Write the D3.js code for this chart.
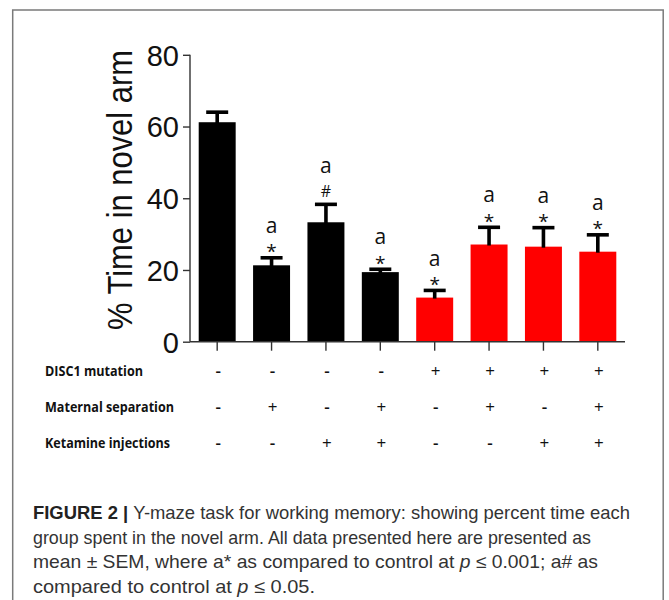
<!DOCTYPE html>
<html>
<head>
<meta charset="utf-8">
<script src="https://cdn.jsdelivr.net/npm/d3@7"></script>
<style>
  html, body { margin: 0; padding: 0; background: #fff; }
  svg { display: block; }
</style>
</head>
<body>
<svg id="chart" width="669" height="600"></svg>
<script>
// Group design: treatment flags per group
const disc1 = ["-", "-", "-", "-", "+", "+", "+", "+"];
const maternal = ["-", "+", "-", "+", "-", "+", "-", "+"];
const ketamine = ["-", "-", "+", "+", "-", "-", "+", "+"];

// % time in novel arm: mean and SEM per group
const means = [61.2, 21.3, 33.3, 19.4, 12.3, 27.1, 26.5, 25.1];
const sems = [2.8, 2.1, 5.0, 0.8, 2.0, 4.8, 5.3, 4.7];

// significance labels above each bar
const sigLetter = ["", "a", "a", "a", "a", "a", "a", "a"];
const sigMark = ["", "*", "#", "*", "*", "*", "*", "*"];

const yTicks = [0, 20, 40, 60, 80];
const rowLabels = ["DISC1 mutation", "Maternal separation", "Ketamine injections"];
const rowFlags = [disc1, maternal, ketamine];

const captionLines = [
  [{t: "FIGURE 2 | ", b: true}, {t: "Y-maze task for working memory: showing percent time each"}],
  [{t: "group spent in the novel arm. All data presented here are presented as"}],
  [{t: "mean \u00B1 SEM, where a* as compared to control at "}, {t: "p", i: true}, {t: " \u2264 0.001; a# as"}],
  [{t: "compared to control at "}, {t: "p", i: true}, {t: " \u2264 0.05."}]
];

const svg = d3.select("#chart");
const groups = d3.range(means.length);

// outer frame
svg.append("rect")
  .attr("x", 12.7).attr("y", 10)
  .attr("width", 650.5).attr("height", 620)
  .attr("fill", "none").attr("stroke", "#7a7a7a").attr("stroke-width", 1.5);

const x = d3.scaleBand().domain(groups).range([190, 625]).paddingInner(0.32).paddingOuter(0.16);
const y = d3.scaleLinear().domain([0, 80]).range([341.7, 54.8]);
const fillFor = i => disc1[i] === "+" ? "#ff0000" : "#000000";

// bars
svg.append("g").selectAll("rect").data(groups).join("rect")
  .attr("x", i => x(i))
  .attr("width", x.bandwidth())
  .attr("y", i => y(means[i]))
  .attr("height", i => y(0) - y(means[i]))
  .attr("fill", fillFor);

// upper SEM whiskers
const eb = svg.append("g").attr("stroke", "#000").attr("stroke-width", 3.6).attr("fill", "none");
groups.forEach(i => {
  const cx = x(i) + x.bandwidth() / 2;
  const top = y(means[i] + sems[i]);
  eb.append("line").attr("x1", cx).attr("x2", cx).attr("y1", y(means[i]) + 1).attr("y2", top);
  eb.append("line").attr("x1", cx - 11).attr("x2", cx + 11).attr("y1", top).attr("y2", top);
});

// axes
const yAxis = svg.append("g").attr("transform", "translate(190,0)")
  .call(d3.axisLeft(y).tickValues(yTicks).tickSize(7).tickPadding(4).tickFormat(d3.format("d")));
yAxis.selectAll("text").attr("font-family", "Liberation Sans, Arial, sans-serif")
  .attr("font-size", 29).attr("fill", "#111").attr("dy", "0.36em");

const xAxis = svg.append("g").attr("transform", "translate(0,341.7)")
  .call(d3.axisBottom(x).tickSize(9).tickFormat(""));

[yAxis, xAxis].forEach(a => {
  a.select(".domain").attr("stroke", "#333").attr("stroke-width", 1.4);
  a.selectAll(".tick line").attr("stroke", "#333").attr("stroke-width", 1.4);
});
yAxis.select(".domain").attr("d", "M0,341.7V54.8");
xAxis.select(".domain").attr("d", "M190,0H625");

// y-axis title
svg.append("text")
  .attr("transform", "translate(132,190) rotate(-90)")
  .attr("text-anchor", "middle")
  .attr("font-family", "Liberation Sans, Arial, sans-serif")
  .attr("font-size", 35)
  .attr("fill", "#111")
  .attr("textLength", 280).attr("lengthAdjust", "spacingAndGlyphs")
  .text("% Time in novel arm");

// significance annotations
const ann = svg.append("g").attr("font-family", "Open Sans, sans-serif").attr("fill", "#111").attr("text-anchor", "middle");
groups.forEach(i => {
  if (!sigLetter[i]) return;
  const cx = x(i) + x.bandwidth() / 2;
  const top = y(means[i] + sems[i]);
  const hash = sigMark[i] === "#";
  ann.append("text").attr("x", cx).attr("y", top + (hash ? -7 : 0.5))
    .attr("font-size", hash ? 16 : 19).text(sigMark[i]);
  ann.append("text").attr("x", cx).attr("y", top - (hash ? 30.9 : 24.8))
    .attr("font-size", 21).text(sigLetter[i]);
});

// treatment table
const rowY = [370.7, 406.7, 443.3];
const table = svg.append("g").attr("font-family", "Open Sans, sans-serif").attr("fill", "#111");
const labelW = [98, 129, 125];
rowLabels.forEach((lab, r) => {
  table.append("text").attr("x", 45).attr("y", rowY[r] + 5)
    .attr("font-size", 14).attr("font-weight", 700)
    .attr("textLength", labelW[r]).attr("lengthAdjust", "spacingAndGlyphs")
    .text(lab);
  rowFlags[r].forEach((f, i) => {
    table.append("text").attr("x", x(i) + x.bandwidth() / 2 + 1).attr("y", rowY[r] + 6)
      .attr("text-anchor", "middle").attr("font-size", 17).attr("font-weight", f === "+" ? 400 : 600)
      .text(f);
  });
});

// caption
const capY = [519, 543.5, 568, 592.5];
const capW = [597, 558, 565, 282];
const cap = svg.append("g").attr("font-family", "Liberation Sans, Arial, sans-serif").attr("font-size", 18.5).attr("fill", "#333");
captionLines.forEach((line, k) => {
  const t = cap.append("text").attr("x", 33).attr("y", capY[k])
    .attr("textLength", capW[k]).attr("lengthAdjust", "spacingAndGlyphs");
  line.forEach(seg => {
    t.append("tspan")
      .attr("font-weight", seg.b ? 700 : null)
      .attr("font-style", seg.i ? "italic" : null)
      .attr("fill", seg.b ? "#222" : null)
      .text(seg.t);
  });
});
</script>
</body>
</html>
